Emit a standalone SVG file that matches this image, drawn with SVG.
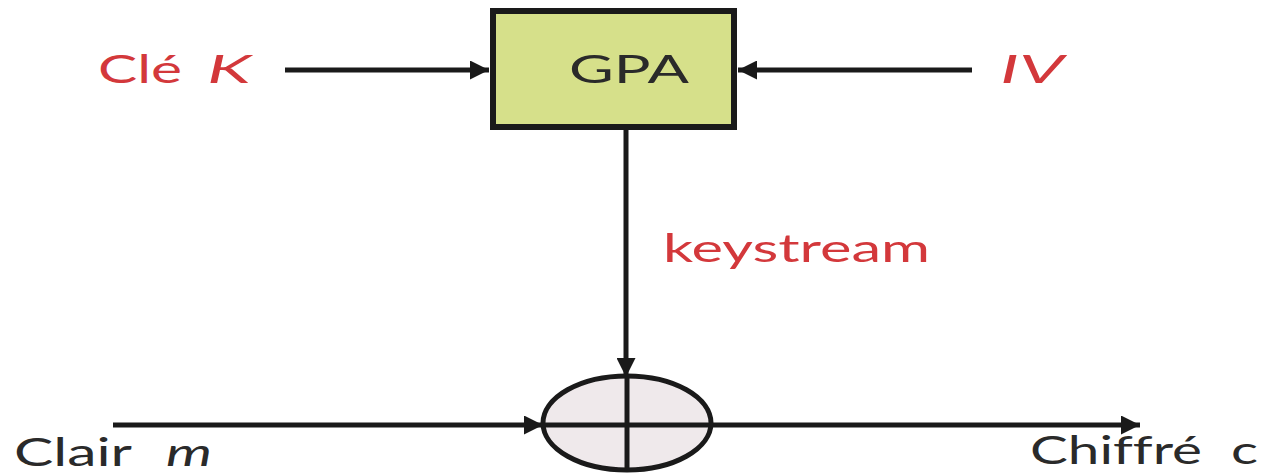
<svg xmlns="http://www.w3.org/2000/svg" width="1264" height="475" viewBox="0 0 1264 475">
<style>
.red{fill:#d3383b;font-family:"Lato","Open Sans","Liberation Sans",sans-serif;font-size:39px;font-variant-ligatures:none}
.dark{fill:#2a2a2a;font-family:"Lato","Open Sans","Liberation Sans",sans-serif;font-size:39px;font-variant-ligatures:none}
.it{font-style:italic}
.ln{stroke:#1a1a1a;stroke-width:5;fill:none}
</style>
<defs>
<marker id="ah" viewBox="0 0 10 10" refX="10" refY="5" markerWidth="5" markerHeight="3.8" markerUnits="strokeWidth" orient="auto"><path d="M0,0 L10,5 L0,10 Z" fill="#1a1a1a"/></marker>
</defs>
<rect width="1264" height="475" fill="#ffffff"/>
<g id="connectors">
<line class="ln" x1="285" y1="70" x2="489" y2="70" marker-end="url(#ah)"/>
<line class="ln" x1="972" y1="70" x2="738" y2="70" marker-end="url(#ah)"/>
<line class="ln" x1="626" y1="130" x2="626" y2="377" marker-end="url(#ah)"/>
<line class="ln" x1="113" y1="425" x2="543" y2="425" marker-end="url(#ah)"/>
<line class="ln" x1="711" y1="425" x2="1140" y2="425" marker-end="url(#ah)"/>
</g>
<g id="gpa">
<rect x="493" y="11" width="241" height="116" fill="#d6e08a" stroke="#1a1a1a" stroke-width="6"/>
<text class="dark" x="569" y="83" textLength="120" lengthAdjust="spacingAndGlyphs">GPA</text>
</g>
<g id="xor">
<ellipse cx="627" cy="423" rx="84" ry="47" fill="#efe9eb" stroke="#1a1a1a" stroke-width="5"/>
<line class="ln" x1="627" y1="376" x2="627" y2="470"/>
<line class="ln" x1="543" y1="425" x2="711" y2="425"/>
</g>
<g id="labels">
<text class="red" x="98" y="83" textLength="84" lengthAdjust="spacingAndGlyphs">Clé</text>
<text class="red it" x="207" y="83" textLength="44" lengthAdjust="spacingAndGlyphs">K</text>
<text class="red it" x="1000" y="83" textLength="64" lengthAdjust="spacingAndGlyphs">IV</text>
<text class="red" x="663" y="262" textLength="267" lengthAdjust="spacingAndGlyphs">keystream</text>
<text class="dark" x="14" y="466" textLength="118" lengthAdjust="spacingAndGlyphs">Clair</text>
<text class="dark it" x="166" y="466" textLength="46" lengthAdjust="spacingAndGlyphs">m</text>
<text class="dark" x="1030" y="464" textLength="172" lengthAdjust="spacingAndGlyphs">Chiffré</text>
<text class="dark" x="1231" y="464" textLength="27" lengthAdjust="spacingAndGlyphs">c</text>
</g>
</svg>
